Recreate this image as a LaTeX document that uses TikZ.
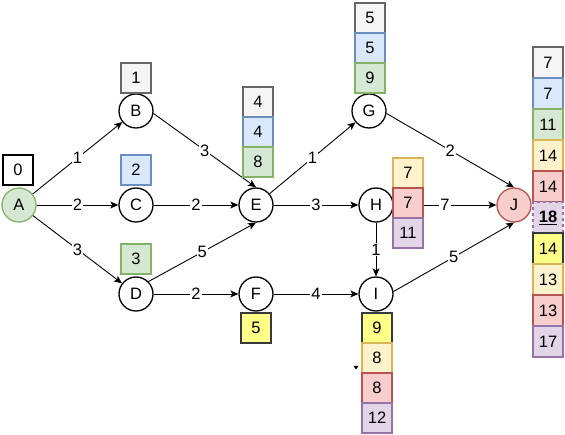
\documentclass[tikz,border=0pt]{standalone}
\usepackage{fontspec}
\setmainfont{Liberation Sans}
\usetikzlibrary{arrows.meta}
\definecolor{gryF}{HTML}{F5F5F5}\definecolor{gryS}{HTML}{666666}
\definecolor{bluF}{HTML}{DAE8FC}\definecolor{bluS}{HTML}{6C8EBF}
\definecolor{grnF}{HTML}{D5E8D4}\definecolor{grnS}{HTML}{82B366}
\definecolor{ylwF}{HTML}{FFF2CC}\definecolor{ylwS}{HTML}{D6B656}
\definecolor{redF}{HTML}{F8CECC}\definecolor{redS}{HTML}{B85450}
\definecolor{purF}{HTML}{E1D5E7}\definecolor{purS}{HTML}{9673A6}
\definecolor{hlF}{HTML}{FFFF88}\definecolor{hlS}{HTML}{36393D}
\begin{document}
\begin{tikzpicture}[x=1pt,y=-1pt,
  every node/.style={font=\fontsize{16.5}{18}\selectfont},
  vtx/.style={circle,draw,line width=1.3pt,minimum size=34pt,inner sep=0pt},
  box/.style={draw,line width=1.3pt,minimum width=30pt,minimum height=30pt,inner sep=0pt},
  jbox/.style={box,minimum height=31pt},
  gbx/.style={fill=gryF,draw=gryS},
  bbx/.style={fill=bluF,draw=bluS},
  nbx/.style={fill=grnF,draw=grnS},
  ybx/.style={fill=ylwF,draw=ylwS},
  rbx/.style={fill=redF,draw=redS},
  pbx/.style={fill=purF,draw=purS},
  hbx/.style={fill=hlF,draw=hlS},
  edg/.style={draw,line width=0.9pt,-{Stealth[length=8pt,width=7pt,inset=2pt]}},
  lbl/.style={fill=white,inner sep=1pt}
]
\useasboundingbox (0,0) rectangle (565,435);

% vertices
\node[vtx,fill=grnF,draw=grnS] (A) at (19,205) {A};
\node[vtx] (B) at (136,111) {B};
\node[vtx] (C) at (136,205) {C};
\node[vtx] (D) at (136,294) {D};
\node[vtx] (E) at (256,205) {E};
\node[vtx] (F) at (256,294) {F};
\node[vtx] (G) at (369,111) {G};
\node[vtx] (H) at (376,205) {H};
\node[vtx] (I) at (376,294) {I};
\node[vtx,fill=redF,draw=redS] (J) at (514,205) {J};

% edges
\draw[edg] (A) -- node[lbl]{1} (B);
\draw[edg] (A) -- node[lbl]{2} (C);
\draw[edg] (A) -- node[lbl]{3} (D);
\draw[edg] (B.-8) -- node[lbl]{3} (E.north);
\draw[edg] (C) -- node[lbl]{2} (E);
\draw[edg] (D.45) -- node[lbl]{5} (E.south);
\draw[edg] (D) -- node[lbl]{2} (F);
\draw[edg] (E) -- node[lbl]{1} (G);
\draw[edg] (E) -- node[lbl]{3} (H);
\draw[edg] (F) -- node[lbl]{4} (I);
\draw[edg] (H) -- node[lbl]{1} (I);
\draw[edg] (H) -- node[lbl]{7} (J);
\draw[edg] (G.-8) -- node[lbl]{2} (J.north);
\draw[edg] (I.8) -- node[lbl]{5} (J.south);

% boxes
\node[box,fill=white,draw=black] (a0) at (18,170) {0};
\node[box,gbx] (b1) at (136,78) {1};
\node[box,bbx] (c1) at (136,170) {2};
\node[box,nbx] (d1) at (136,259) {3};
\node[box,gbx] (e1) at (258,102) {4};
\node[box,bbx] (e2) at (258,132) {4};
\node[box,nbx] (e3) at (258,162) {8};
\node[box,gbx] (g1) at (370,18) {5};
\node[box,bbx] (g2) at (370,48) {5};
\node[box,nbx] (g3) at (370,78) {9};
\node[box,ybx] (h1) at (408,173) {7};
\node[box,rbx] (h2) at (408,203) {7};
\node[box,pbx] (h3) at (408,233) {11};
\node[box,hbx] (f1) at (256,328) {5};
\node[box,hbx] (i1) at (377,328) {9};
\node[box,ybx] (i2) at (377,358) {8};
\node[box,rbx] (i3) at (377,388) {8};
\node[box,pbx] (i4) at (377,418) {12};
\node[jbox,gbx] (j1) at (548,62.5) {7};
\node[jbox,bbx] (j2) at (548,93.5) {7};
\node[jbox,nbx] (j3) at (548,124.5) {11};
\node[jbox,ybx] (j4) at (548,155.5) {14};
\node[jbox,rbx] (j5) at (548,186.5) {14};
\node[jbox,pbx,dashed] (j6) at (548,217.5) {\textbf{\underline{18}}};
\node[jbox,hbx] (j7) at (548,248.5) {14};
\node[jbox,ybx] (j8) at (548,279.5) {13};
\node[jbox,rbx] (j9) at (548,310.5) {13};
\node[jbox,pbx] (j10) at (548,341.5) {17};

% small mark
\fill (353.5,366) -- (358.5,366) -- (356,369.5) -- cycle;
\end{tikzpicture}
\end{document}
